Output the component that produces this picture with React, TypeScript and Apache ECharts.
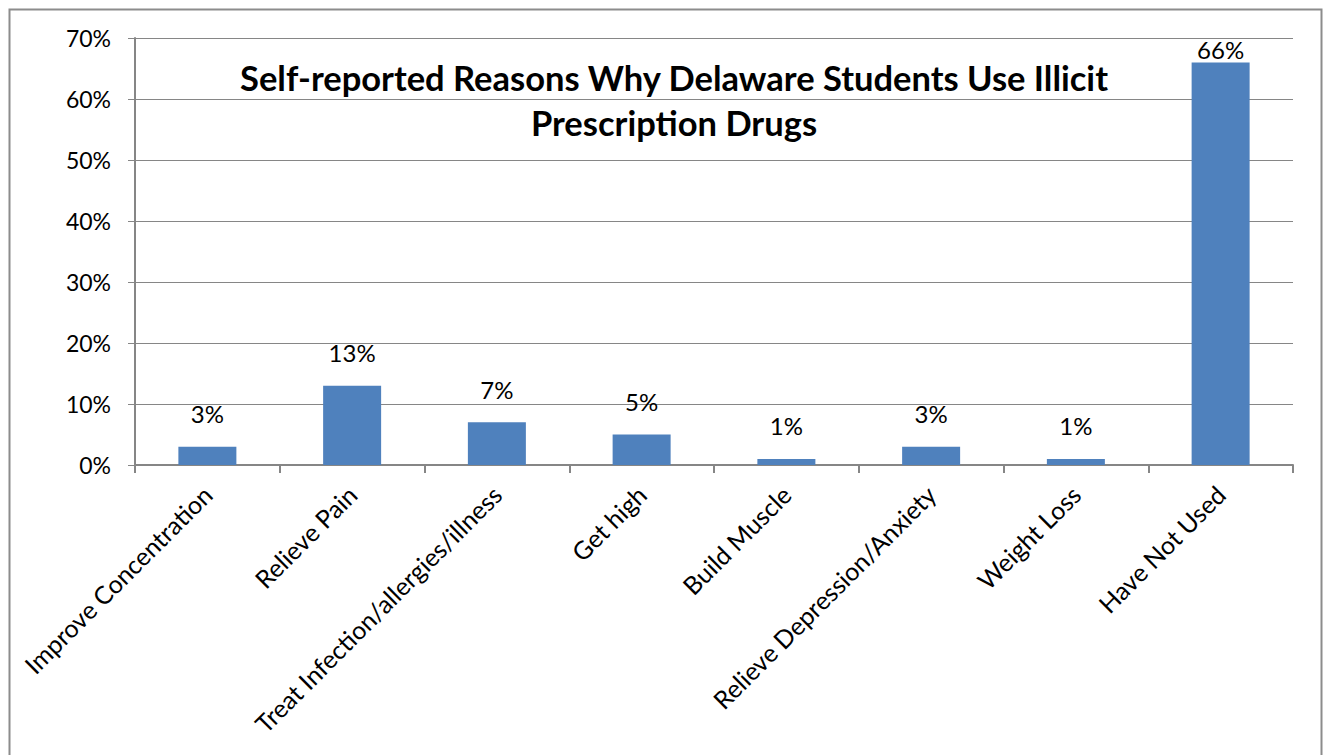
import React, { useEffect, useRef } from "react";
import * as echarts from "echarts";

const categories = [
  "Improve Concentration",
  "Relieve Pain",
  "Treat Infection/allergies/illness",
  "Get high",
  "Build Muscle",
  "Relieve Depression/Anxiety",
  "Weight Loss",
  "Have Not Used",
];
const values = [3, 13, 7, 5, 1, 3, 1, 66];
const titleLines = [
  "Self-reported Reasons Why Delaware Students Use Illicit",
  "Prescription Drugs",
];

const FONT = "Lato, 'Open Sans', sans-serif";

export default function App() {
  const ref = useRef<HTMLDivElement>(null);
  useEffect(() => {
    if (!ref.current) return;
    const chart = echarts.init(ref.current, undefined, { renderer: "svg" });
    const data = values.map((v, i) => ({
      value: v,
      label: i === values.length - 1 ? { distance: 1 } : { distance: 21 },
    }));
    chart.setOption({
      animation: false,
      backgroundColor: "#ffffff",
      grid: { left: 135, right: 32, top: 38, bottom: 290, containLabel: false },
      graphic: [
        {
          type: "rect",
          shape: { x: 9.5, y: 9.5, width: 1312, height: 800 },
          style: { fill: "none", stroke: "#8c8c8c", lineWidth: 2 },
          silent: true,
        },
        {
          type: "text",
          x: 674,
          y: 55,
          style: {
            text: titleLines.join("\n"),
            font: `bold 34.5px ${FONT}`,
            fill: "#000",
            textAlign: "center",
            textVerticalAlign: "top",
            lineHeight: 45,
          },
          z: 10,
        },
      ],
      xAxis: {
        type: "category",
        data: categories,
        axisLine: { show: true, lineStyle: { color: "#868686", width: 2 } },
        axisTick: { show: true, length: 8, lineStyle: { color: "#868686", width: 2 } },
        axisLabel: {
          rotate: 45,
          interval: 0,
          margin: 25,
          color: "#000",
          fontSize: 25,
          fontFamily: FONT,
        },
        splitLine: { show: false },
      },
      yAxis: {
        type: "value",
        min: 0,
        max: 70,
        interval: 10,
        axisLine: { show: true, lineStyle: { color: "#868686", width: 2 } },
        axisTick: { show: true, length: 7, lineStyle: { color: "#868686", width: 1 } },
        axisLabel: {
          formatter: "{value}%",
          margin: 24,
          color: "#000",
          fontSize: 23,
          fontFamily: FONT,
        },
        splitLine: { show: true, lineStyle: { color: "#868686", width: 1 } },
      },
      series: [
        {
          type: "bar",
          data,
          barWidth: 58,
          itemStyle: { color: "#4F81BD" },
          label: {
            show: true,
            position: "top",
            formatter: "{c}%",
            color: "#000",
            fontSize: 24,
            fontFamily: FONT,
          },
        },
      ],
    });
    return () => chart.dispose();
  }, []);
  return (
    <div
      ref={ref}
      style={{ position: "absolute", left: 0, top: 0, width: 1325, height: 755 }}
    />
  );
}
